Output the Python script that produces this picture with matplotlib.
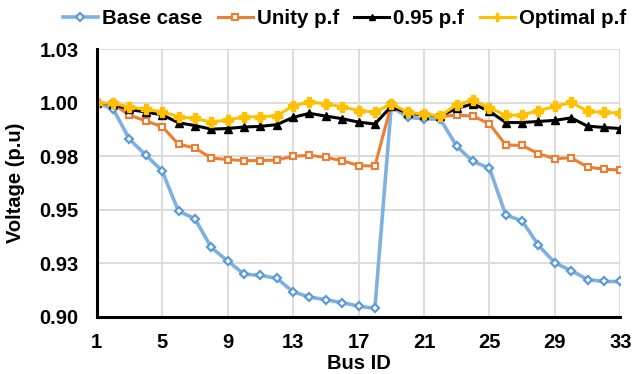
import matplotlib
matplotlib.use("Agg")
import matplotlib.pyplot as plt

plt.rcParams['font.family'] = ['Liberation Sans', 'DejaVu Sans']
plt.rcParams['font.weight'] = 'bold'

# Bus voltage profiles (p.u) for the 33-bus feeder
bus = list(range(1, 34))
base_case = [1.000, 0.9972, 0.9830, 0.9756, 0.9682, 0.9493, 0.9459, 0.9324, 0.9261, 0.9200,
             0.9193, 0.9180, 0.9117, 0.9092, 0.9080, 0.9066, 0.9050, 0.9039, 0.9983, 0.9933,
             0.9925, 0.9924, 0.9797, 0.9726, 0.9695, 0.9476, 0.9448, 0.9334, 0.9252, 0.9216,
             0.9174, 0.9165, 0.9165]
unity_pf = [1.000, 0.9994, 0.9943, 0.9915, 0.9889, 0.9807, 0.9789, 0.9742, 0.9735, 0.9730,
            0.9730, 0.9733, 0.9750, 0.9755, 0.9745, 0.9730, 0.9707, 0.9704, 0.9991, 0.9952,
            0.9944, 0.9936, 0.9943, 0.9938, 0.9902, 0.9803, 0.9801, 0.9762, 0.9739, 0.9743,
            0.9700, 0.9690, 0.9686]
pf_095 = [1.000, 0.9994, 0.9969, 0.9957, 0.9944, 0.9907, 0.9894, 0.9877, 0.9880, 0.9887,
          0.9890, 0.9898, 0.9932, 0.9951, 0.9938, 0.9926, 0.9910, 0.9901, 0.9983, 0.9952,
          0.9944, 0.9939, 0.9974, 0.9995, 0.9961, 0.9908, 0.9908, 0.9913, 0.9918, 0.9930,
          0.9891, 0.9885, 0.9880]
optimal_pf = [1.000, 0.9997, 0.9981, 0.9969, 0.9958, 0.9935, 0.9927, 0.9910, 0.9920, 0.9934,
              0.9935, 0.9940, 0.9985, 1.0005, 0.9995, 0.9982, 0.9964, 0.9957, 0.9995, 0.9957,
              0.9946, 0.9939, 0.9992, 1.0012, 0.9978, 0.9941, 0.9944, 0.9964, 0.9983, 1.0002,
              0.9961, 0.9955, 0.9953]

x_ticks = [1, 5, 9, 13, 17, 21, 25, 29, 33]
y_ticks = [0.900, 0.925, 0.950, 0.975, 1.000, 1.025]
y_tick_labels = ['0.90', '0.93', '0.95', '0.98', '1.00', '1.03']

fig = plt.figure(figsize=(6.32, 3.74), dpi=100)
ax = fig.add_axes([0.153, 0.153, 0.8285, 0.715])

ax.plot(bus, base_case, color='#7fb0e0', lw=2.6, marker='D', ms=4.5,
        mfc='white', mec='#5b9bd5', mew=1.6, label='Base case', zorder=3)
ax.plot(bus, unity_pf, color='#ed7d31', lw=2.2, marker='s', ms=4.8,
        mfc='white', mec='#ed7d31', mew=1.5, label='Unity p.f', zorder=4)
ax.plot(bus, pf_095, color='black', lw=2.2, marker='^', ms=6,
        mfc='black', mec='black', label='0.95 p.f', zorder=5)
ax.plot(bus, optimal_pf, color='#ffc000', lw=2.2, marker='P', ms=6.5,
        mfc='#ffc000', mec='#ffc000', label='Optimal p.f', zorder=6)

ax.set_xlim(1, 33)
ax.set_ylim(0.9, 1.025)
ax.set_xticks(x_ticks)
ax.set_yticks(y_ticks)
ax.set_yticklabels(y_tick_labels)
ax.tick_params(axis='both', length=0, labelsize=14.5)
ax.tick_params(axis='y', pad=13)
ax.tick_params(axis='x', pad=12)

ax.grid(True, color='#d9d9d9', lw=1.3)
ax.set_axisbelow(True)
for side in ('top', 'right'):
    ax.spines[side].set_visible(False)
for side in ('left', 'bottom'):
    ax.spines[side].set_color('black')
    ax.spines[side].set_linewidth(2.2)
    ax.spines[side].set_zorder(7)

ax.set_xlabel('Bus ID', fontsize=14.5, fontweight='bold')
ax.set_ylabel('Voltage (p.u)', fontsize=14.5, fontweight='bold')
ax.xaxis.set_label_coords(0.5, -0.138)
ax.yaxis.set_label_coords(-0.137, 0.5)

fig.legend(loc='center', bbox_to_anchor=(0.545, 0.95), ncol=4, frameon=False,
           fontsize=14.8, handlelength=1.7, handletextpad=0.2, columnspacing=0.75,
           borderaxespad=0, markerscale=0.8)

fig.savefig('out.png', dpi=100)
